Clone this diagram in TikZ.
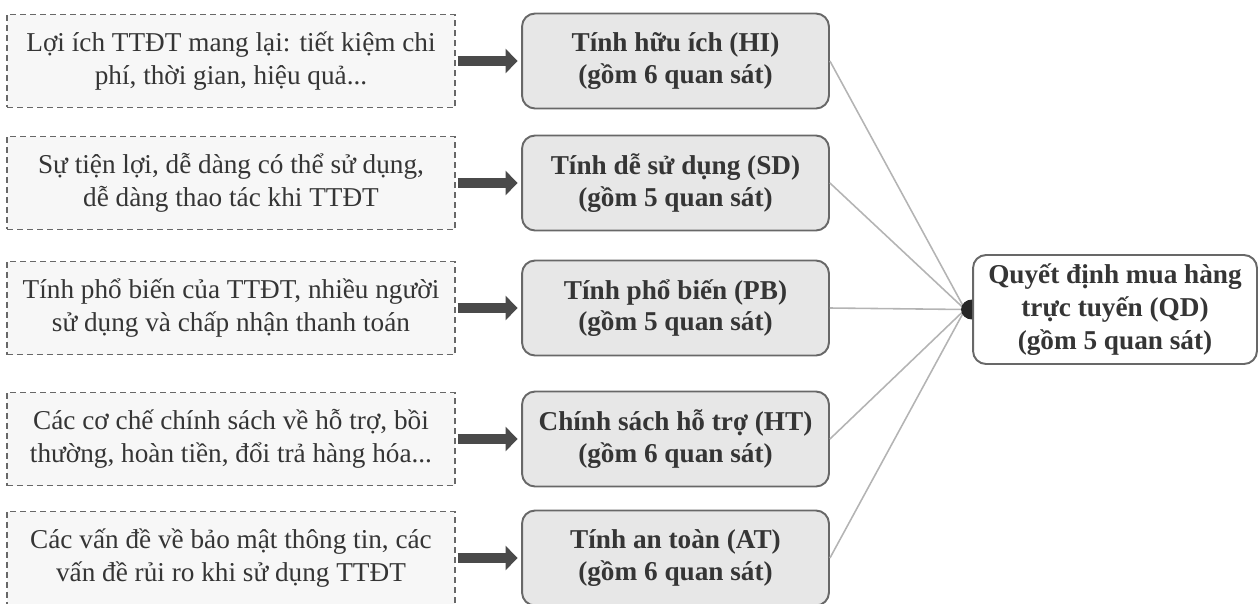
\documentclass[tikz,border=0pt]{standalone}
\usepackage{fontspec}
\setmainfont{Liberation Serif}
\usetikzlibrary{arrows.meta}
\definecolor{txtgray}{HTML}{353535}
\definecolor{boxline}{HTML}{686868}
\definecolor{boxfill}{HTML}{E7E7E7}
\definecolor{linkgray}{HTML}{B4B4B4}
\definecolor{pushgray}{HTML}{4A4A4A}
\tikzset{
  >=latex,
}
\tikzstyle{every node}=[font=\fontsize{15.5}{18.5}\selectfont,text=txtgray]
\tikzstyle{desc}=[draw=boxline,line width=0.9pt,dash pattern=on 0.12cm off 0.08cm,
  fill=white!97!black,minimum width=8.96cm,minimum height=1.86cm,align=center,inner sep=0pt]
\tikzstyle{factor}=[draw=boxline,line width=1.1pt,rounded corners=0.26cm,fill=boxfill,
  minimum width=6.14cm,minimum height=1.9cm,align=center,inner sep=0pt,font=\fontsize{15.5}{18}\selectfont\bfseries]
\tikzstyle{result}=[draw=boxline,line width=1.1pt,rounded corners=0.26cm,fill=white,
  minimum width=5.68cm,minimum height=2.18cm,align=center,inner sep=0pt,font=\fontsize{15.5}{19}\selectfont\bfseries]
\tikzstyle{push}=[draw=pushgray,line width=0.2cm,-{Triangle[length=0.24cm,width=0.48cm]},
  shorten <=1pt,shorten >=2pt]
\tikzstyle{link}=[draw=linkgray,line width=0.9pt]

\begin{document}
\begin{tikzpicture}[x=0.02cm,y=-0.02cm]
    \useasboundingbox (0,0) rectangle (1259,603);
    \clip (0,0) rectangle (1259,603);
    % left: explanations
    \node[desc] (dHI) at (231,61) {Lợi ích TTĐT mang lại: tiết kiệm chi\\phí, thời gian, hiệu quả...};
    \node[desc] (dSD) at (231,183) {Sự tiện lợi, dễ dàng có thể sử dụng,\\dễ dàng thao tác khi TTĐT};
    \node[desc] (dPB) at (231,308) {Tính phổ biến của TTĐT, nhiều người\\sử dụng và chấp nhận thanh toán};
    \node[desc] (dHT) at (231,439) {Các cơ chế chính sách về hỗ trợ, bồi\\thường, hoàn tiền, đổi trả hàng hóa...};
    \node[desc] (dAT) at (231,558) {Các vấn đề về bảo mật thông tin, các\\vấn đề rủi ro khi sử dụng TTĐT};
    % middle: factors
    \node[factor] (fHI) at (675.5,61) {Tính hữu ích (HI)\\(gồm 6 quan sát)};
    \node[factor] (fSD) at (675.5,183) {Tính dễ sử dụng (SD)\\(gồm 5 quan sát)};
    \node[factor] (fPB) at (675.5,308) {Tính phổ biến (PB)\\(gồm 5 quan sát)};
    \node[factor] (fHT) at (675.5,439) {Chính sách hỗ trợ (HT)\\(gồm 6 quan sát)};
    \node[factor] (fAT) at (675.5,558) {Tính an toàn (AT)\\(gồm 6 quan sát)};
    % right: decision
    \node[result] (fQD) at (1115,309.5) {Quyết định mua hàng\\trực tuyến (QD)\\(gồm 5 quan sát)};
    \foreach \f in {HI,SD,PB,HT,AT}{
      \draw[push] (d\f.east) -- (f\f.west);
      \draw[link] (f\f.east) -- ([xshift=-0.14cm]fQD.west);
    }
    \fill[black!85] (fQD.west) ++(0cm,0.2cm) arc[start angle=90,end angle=270,x radius=0.22cm,y radius=0.2cm] -- cycle;
\end{tikzpicture}
\end{document}
